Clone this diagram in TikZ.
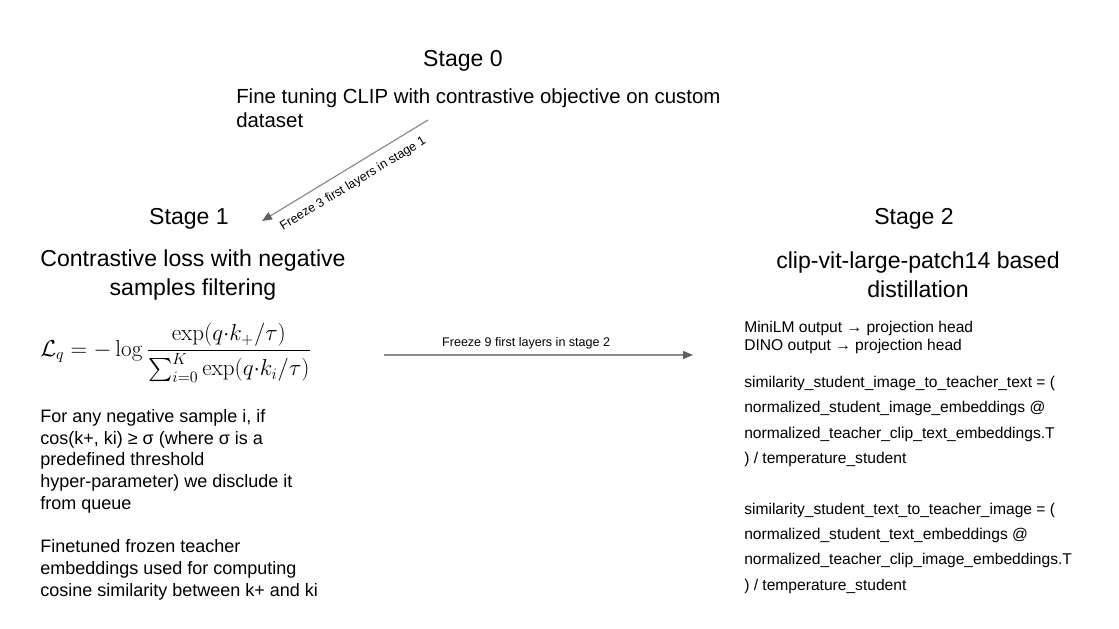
\documentclass[tikz,border=0pt]{standalone}
\usepackage[no-math]{fontspec}
\setmainfont{Liberation Sans}
\usepackage{amsmath}
\usetikzlibrary{arrows.meta, positioning}

\definecolor{arrowgray}{RGB}{140,140,140}
\definecolor{headgray}{RGB}{95,95,95}

\tikzset{
    stagetitle/.style={font=\fontsize{17.3}{21}\selectfont, inner sep=0pt},
    subtitle/.style={font=\fontsize{17.3}{21.75}\selectfont, align=center, inner sep=0pt},
    bodytext/.style={font=\fontsize{15.3}{18}\selectfont, align=left, inner sep=0pt},
    notetext/.style={font=\fontsize{13.5}{16.3}\selectfont, align=left, inner sep=0pt},
    codetext/.style={font=\fontsize{11.7}{13.5}\selectfont, align=left, inner sep=0pt},
    freezetext/.style={font=\fontsize{9.4}{11}\selectfont, inner sep=0pt},
    freeze/.style={draw=arrowgray, line width=0.9pt, -{Triangle[length=7.5pt, width=6pt, color=headgray]}}
}

\begin{document}
\begin{tikzpicture}[x=0.75pt, y=-0.75pt]
    \useasboundingbox (0,0) rectangle (1119,628);

    % Stage 0
    \node[stagetitle] (stage0) at (463,61) {Stage 0};
    \node[bodytext, anchor=north west] (finetune) at (236,88) {Fine tuning CLIP with contrastive objective on custom\\dataset};

    % Stage 1
    \node[stagetitle] (stage1) at (189,219) {Stage 1};
    \node[subtitle] (closs) at (193,275) {Contrastive loss with negative\\samples filtering};
    \node[anchor=west, inner sep=0pt, font=\fontsize{17.2}{20}\selectfont] (loss) at (40,353)
        {$\displaystyle \mathcal{L}_q = -\log \frac{\exp(q{\cdot}k_+/\tau)}{\sum_{i=0}^{K}\exp(q{\cdot}k_i/\tau)}$};
    \node[notetext, anchor=north west] (filter) at (40,409) {For any negative sample i, if\\cos(k+, ki) ≥ σ (where σ is a\\predefined threshold\\hyper-parameter) we disclude it\\from queue\\[16.3pt]Finetuned frozen teacher\\embeddings used for computing\\cosine similarity between k+ and ki};

    % Stage 2
    \node[stagetitle] (stage2) at (914,219) {Stage 2};
    \node[subtitle] (distill) at (918,275) {clip-vit-large-patch14 based\\distillation};
    \node[codetext, anchor=north west] (heads) at (744,321) {MiniLM output → projection head\\DINO output → projection head};
    \node[codetext, font=\fontsize{11.7}{19}\selectfont, anchor=north west] (sims) at (744,376)
        {similarity\_student\_image\_to\_teacher\_text = (\\normalized\_student\_image\_embeddings @\\normalized\_teacher\_clip\_text\_embeddings.T\\) / temperature\_student\\[19pt]similarity\_student\_text\_to\_teacher\_image = (\\normalized\_student\_text\_embeddings @\\normalized\_teacher\_clip\_image\_embeddings.T\\) / temperature\_student};

    % Freeze arrows
    \coordinate (a1s) at (428,120);
    \coordinate (a1e) at (262,221);
    \draw[freeze] (a1s) -- node[sloped, below=7pt, freezetext] {Freeze 3 first layers in stage 1} (a1e);

    \coordinate (a2s) at (384,355);
    \coordinate (a2e) at (693,355);
    \draw[freeze] (a2s) -- node[pos=0.46, above=4pt, freezetext] {Freeze 9 first layers in stage 2} (a2e);

\end{tikzpicture}
\end{document}
